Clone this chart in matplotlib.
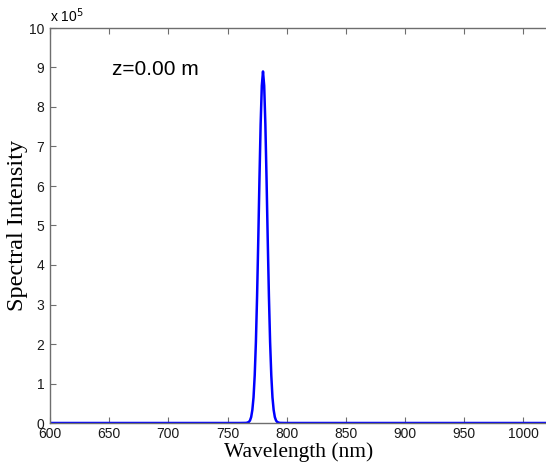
import matplotlib
matplotlib.use("Agg")
import matplotlib.pyplot as plt

# Spectrum (intensity in units of 1e5)
wavelength = [600, 760, 766, 768, 769, 770, 771, 772, 773, 774, 775, 776, 777,
              778, 779, 780, 781, 782, 783, 784, 785, 786, 787, 788, 789, 790,
              791, 792, 794, 800, 1020]
intensity = [0.0, 0.0, 0.003, 0.025, 0.064, 0.15, 0.33, 0.65, 1.21, 2.05,
             3.21, 4.63, 6.17, 7.56, 8.54, 8.9, 8.54, 7.56, 6.17, 4.63, 3.21,
             2.05, 1.21, 0.65, 0.33, 0.15, 0.064, 0.025, 0.003, 0.0, 0.0]

x_ticks = [600, 650, 700, 750, 800, 850, 900, 950, 1000]
y_ticks = list(range(0, 11))
label = "z=0.00 m"

W, H = 546, 465
fig = plt.figure(figsize=(W / 100, H / 100), dpi=100)
ax = fig.add_axes([50 / W, 1 - 423 / H, 497 / W, 395 / H])

ax.plot(wavelength, intensity, color="#0000ff", lw=1.8)

ax.set_xlim(600, 1020)
ax.set_ylim(0, 10)
ax.set_xticks(x_ticks)
ax.set_yticks(y_ticks)

for s in ax.spines.values():
    s.set_color("#6e6e6e")
    s.set_linewidth(1.0)
ax.spines["right"].set_visible(False)
ax.tick_params(direction="in", length=4, width=0.8, color="#6e6e6e",
               labelsize=10, labelcolor="#1a1a1a", top=True, right=False,
               pad=3, labelfontfamily="Liberation Sans")
ax.tick_params(axis="y", pad=4)

ax.text(0.0, 1.008, r"x 10$^5$", transform=ax.transAxes, fontsize=10,
        family="Liberation Sans", ha="left", va="bottom")
ax.text(652, 8.8, label, fontsize=15, family="Liberation Sans",
        ha="left", va="baseline")

ax.set_xlabel("Wavelength (nm)", fontsize=15.5, family="Liberation Serif",
              labelpad=1)
ax.set_ylabel("Spectral Intensity", fontsize=17.5, family="Liberation Serif",
              labelpad=1)

fig.savefig("out.png", dpi=100, facecolor="white")
